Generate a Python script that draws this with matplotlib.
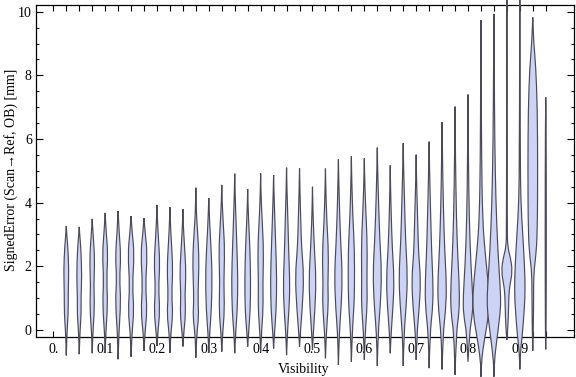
import matplotlib
matplotlib.use("Agg")
import matplotlib.pyplot as plt
from matplotlib.path import Path
from matplotlib.patches import PathPatch
from matplotlib.ticker import FixedLocator, FixedFormatter

# ---- data ----
# violin centres (Visibility)
positions = [0.025 * k for k in range(1, 39)]
# lowest / highest value of each violin
vmin = [-0.80, -0.76, -0.73, -0.72, -0.92, -0.84, -0.66, -0.50, -0.72, -0.52,
        -0.87, -0.71, -0.68, -0.73, -0.52, -0.68, -0.58, -0.79, -0.52, -0.63,
        -0.89, -1.10, -1.00, -0.94, -1.13, -0.73, -1.13, -0.94, -1.20, -1.24,
        -1.41, -1.00, -1.47, -1.47, -0.31, -1.24, -0.65, -0.61]
vmax = [3.27, 3.24, 3.49, 3.68, 3.74, 3.58, 3.52, 3.93, 3.86, 3.80,
        4.47, 4.14, 4.56, 4.91, 4.43, 4.92, 4.87, 5.10, 5.08, 4.50,
        5.07, 5.36, 5.45, 5.39, 5.73, 5.17, 5.87, 5.51, 5.92, 6.53,
        7.02, 7.40, 9.74, 9.93, 10.6, 11.0, 9.82, 7.31]
# density profile of each violin: (value, relative half width)
profiles = [
    [(-0.1, 0.6), (0.5, 2.0), (1.2, 2.0), (1.9, 2.6), (2.6, 1.6), (3.0, 0.5)],
    [(-0.1, 0.6), (0.5, 2.0), (1.0, 1.8), (1.7, 2.6), (2.5, 1.8), (3.0, 0.5)],
    [(-0.1, 0.6), (0.7, 2.4), (1.4, 1.6), (2.2, 2.6), (2.9, 1.2), (3.3, 0.3)],
    [(-0.1, 0.6), (0.8, 2.6), (1.6, 1.5), (2.4, 2.8), (3.1, 1.0)],
    [(-0.1, 0.7), (0.9, 2.8), (1.6, 1.4), (2.3, 2.8), (3.1, 1.0)],
    [(-0.1, 0.8), (0.6, 3.0), (1.4, 1.3), (2.4, 3.3), (3.1, 1.0)],
    [(-0.1, 0.8), (0.6, 3.2), (1.4, 1.4), (2.4, 3.4), (3.1, 1.0)],
    [(-0.1, 0.8), (0.6, 3.0), (1.3, 1.5), (2.1, 3.0), (2.9, 1.4), (3.5, 0.4)],
    [(-0.1, 0.8), (0.5, 3.0), (1.1, 1.7), (1.9, 3.0), (2.8, 1.4), (3.4, 0.4)],
    [(-0.1, 0.8), (0.5, 2.8), (1.1, 2.0), (1.8, 3.2), (2.7, 1.5), (3.3, 0.4)],
    [(-0.1, 0.8), (0.4, 3.0), (1.0, 2.0), (2.0, 3.2), (2.7, 2.6), (3.5, 0.8), (4.0, 0.3)],
    [(-0.1, 0.8), (0.6, 2.6), (1.7, 3.4), (2.6, 2.2), (3.4, 0.8)],
    [(-0.1, 0.8), (0.6, 2.8), (1.5, 2.0), (2.5, 3.0), (3.3, 1.6), (4.0, 0.4)],
    [(-0.1, 0.8), (0.6, 2.6), (1.6, 3.2), (2.6, 2.2), (3.5, 1.2), (4.3, 0.4)],
    [(-0.1, 0.8), (0.6, 2.6), (1.6, 3.0), (2.6, 2.2), (3.4, 1.0), (4.0, 0.3)],
    [(-0.1, 0.8), (0.7, 2.6), (1.4, 2.2), (2.5, 3.0), (3.4, 1.6), (4.2, 0.4)],
    [(-0.1, 0.8), (0.6, 2.6), (1.6, 3.2), (2.6, 2.2), (3.5, 1.2), (4.3, 0.4)],
    [(-0.1, 0.8), (0.6, 2.4), (1.4, 3.4), (2.4, 2.2), (3.4, 1.4), (4.4, 0.4)],
    [(-0.1, 0.8), (0.7, 2.8), (1.7, 4.4), (2.6, 2.0), (3.5, 1.2), (4.4, 0.4)],
    [(-0.1, 0.8), (0.7, 2.6), (1.6, 3.6), (2.5, 2.0), (3.4, 0.8), (4.0, 0.3)],
    [(-0.1, 0.8), (0.8, 3.0), (1.4, 2.4), (2.4, 3.2), (3.4, 1.4), (4.4, 0.4)],
    [(-0.1, 0.8), (0.7, 2.8), (1.7, 4.0), (2.7, 2.4), (3.7, 1.2), (4.7, 0.4)],
    [(-0.1, 0.8), (0.7, 2.6), (1.3, 3.2), (2.5, 3.2), (3.6, 1.4), (4.7, 0.4)],
    [(-0.1, 0.8), (0.8, 3.0), (1.5, 2.6), (2.7, 3.0), (3.8, 1.4), (4.7, 0.4)],
    [(-0.1, 0.8), (0.8, 3.2), (1.8, 4.4), (2.8, 2.6), (3.9, 1.4), (5.0, 0.4)],
    [(-0.1, 0.8), (0.7, 2.8), (1.6, 4.0), (2.6, 2.0), (3.6, 1.0), (4.5, 0.3)],
    [(-0.1, 0.8), (0.8, 3.2), (1.7, 4.4), (2.8, 2.4), (4.0, 1.4), (5.1, 0.4)],
    [(-0.1, 0.8), (0.7, 3.2), (1.6, 4.6), (2.4, 2.4), (3.4, 1.6), (4.7, 0.4)],
    [(-0.1, 0.9), (0.6, 3.4), (1.3, 4.2), (2.4, 2.6), (3.8, 1.4), (5.1, 0.4)],
    [(-0.1, 1.0), (0.6, 3.6), (1.4, 4.6), (2.5, 2.6), (4.0, 1.2), (5.5, 0.4)],
    [(-0.1, 1.2), (0.5, 4.0), (1.2, 4.6), (2.3, 2.8), (3.5, 1.4), (5.5, 0.4)],
    [(-0.1, 1.4), (0.5, 4.6), (1.0, 5.0), (2.0, 3.0), (3.5, 1.2), (5.5, 0.4)],
    [(-1.0, 0.3), (-0.3, 3.5), (0.3, 7.0), (0.9, 8.5), (1.6, 7.0), (2.5, 4.0),
     (3.5, 1.6), (5.5, 0.6), (8.0, 0.3)],
    [(-1.0, 0.3), (-0.3, 3.0), (0.3, 5.5), (0.8, 7.0), (1.3, 6.5), (2.5, 4.0),
     (4.0, 2.0), (6.0, 0.8), (8.5, 0.3)],
    [(-0.2, 0.4), (0.4, 1.5), (1.1, 2.0), (1.4, 3.0), (1.85, 5.7), (2.3, 3.5),
     (2.6, 0.8), (3.2, 0.3)],
    [(-0.7, 0.5), (-0.2, 2.4), (0.5, 4.2), (1.2, 5.5), (2.0, 4.8), (3.0, 3.0),
     (4.0, 1.0), (5.5, 0.4)],
    [(-0.1, 0.5), (1.0, 0.8), (1.8, 1.0), (2.3, 3.0), (3.0, 4.6), (5.0, 5.0),
     (7.0, 4.6), (8.3, 3.0), (9.0, 1.0)],
    [(0.0, 0.4), (3.0, 0.6), (6.5, 0.4)],
]
xtick_vals = [0.0, 0.1, 0.2, 0.3, 0.4, 0.5, 0.6, 0.7, 0.8, 0.9]
xtick_labels = ["0.", "0.1", "0.2", "0.3", "0.4", "0.5", "0.6", "0.7", "0.8", "0.9"]
ytick_vals = [0, 2, 4, 6, 8, 10]
ytick_labels = ["0", "2", "4", "6", "8", "10"]

# ---- style ----
plt.rcParams['font.family'] = ['Liberation Serif', 'DejaVu Serif']
FILL = '#cdd3f5'
EDGE = '#4a4a58'
WSCALE = 0.00190   # relative half-width -> data units

fig = plt.figure(figsize=(5.76, 3.77), dpi=100)
ax = fig.add_axes([36 / 576, 1 - 337.3 / 377, (574 - 36) / 576, (337.3 - 4.7) / 377])
ax.set_xlim(-0.0334, 1.0045)
ax.set_ylim(-0.23, 10.22)


def side(xc, ys, ws, sign):
    pts = [(xc + sign * w * WSCALE, y) for y, w in zip(ys, ws)]
    verts = [pts[0]]
    codes = [Path.MOVETO]
    for i in range(1, len(pts) - 1):
        mid = ((pts[i][0] + pts[i + 1][0]) / 2, (pts[i][1] + pts[i + 1][1]) / 2)
        verts += [pts[i], mid]
        codes += [Path.CURVE3, Path.CURVE3]
    verts.append(pts[-1])
    codes.append(Path.LINETO)
    return verts, codes


for xc, lo, hi, prof in zip(positions, vmin, vmax, profiles):
    ys = [lo] + [p[0] for p in prof] + [hi]
    ws = [0.0] + [p[1] for p in prof] + [0.0]
    rv, rc = side(xc, ys, ws, +1)
    lv, lc = side(xc, ys[::-1], ws[::-1], -1)
    verts = rv + lv[1:] + [rv[0]]
    codes = rc + lc[1:] + [Path.CLOSEPOLY]
    patch = PathPatch(Path(verts, codes), facecolor=FILL, edgecolor=EDGE,
                      linewidth=0.85, clip_on=False, zorder=3)
    ax.add_patch(patch)

# ticks
ax.xaxis.set_major_locator(FixedLocator(xtick_vals))
ax.xaxis.set_major_formatter(FixedFormatter(xtick_labels))
ax.xaxis.set_minor_locator(FixedLocator(positions))
ax.yaxis.set_major_locator(FixedLocator(ytick_vals))
ax.yaxis.set_major_formatter(FixedFormatter(ytick_labels))
ax.yaxis.set_minor_locator(FixedLocator([v * 0.5 for v in range(0, 21)]))
ax.tick_params(axis='both', which='both', direction='in', top=True, right=True,
               labelsize=10, color='black', width=0.8)
ax.tick_params(axis='x', which='major', length=4, pad=4)
ax.tick_params(axis='x', which='minor', length=4)
ax.tick_params(axis='y', which='major', length=5, pad=3)
ax.tick_params(axis='y', which='minor', length=2.5)
for s in ax.spines.values():
    s.set_linewidth(0.9)
    s.set_zorder(2)

fig.text(304 / 576, 1 - 369 / 377, "Visibility", fontsize=10,
         ha='center', va='center')
fig.text(11 / 576, 1 - 170 / 377, "SignedError (Scan\u2192Ref, OB) [mm]",
         fontsize=10, rotation=90, ha='center', va='center')

fig.savefig("out.png", dpi=100)
